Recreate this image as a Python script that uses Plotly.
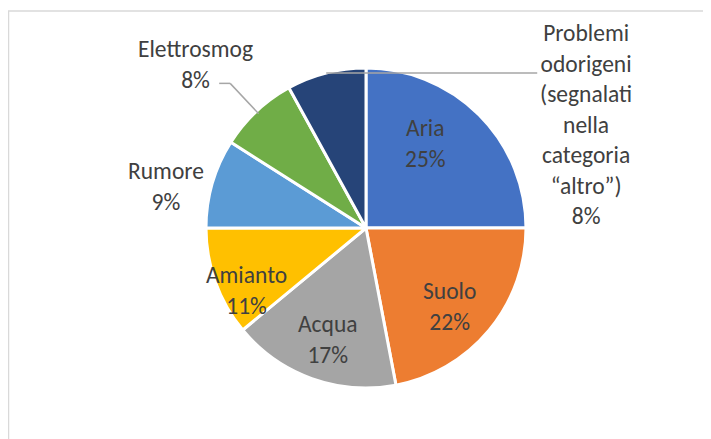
import numpy as np
import plotly.graph_objects as go

labels = ["Aria", "Suolo", "Acqua", "Amianto", "Rumore", "Elettrosmog",
          "Problemi<br>odorigeni<br>(segnalati<br>nella<br>categoria<br>“altro”)"]
values = [25, 22, 17, 11, 9, 8, 8]
colors = ["#4472C4", "#ED7D31", "#A5A5A5", "#FFC000", "#5B9BD5", "#70AD47", "#264478"]

W, H = 711, 439
OFF = 8  # page margin around the figure
CX, CY, R = 366 - OFF, 228 - OFF, 160  # pie centre / radius in figure px

# label placement relative to slice middle: (angle shift in deg, radius factor)
label_pos = [(-9.5, 0.645), (3.6, 0.72), (-0.6, 0.74), (-7.7, 0.84),
             (-4.4, 1.28), (-3.0, 1.48), (79.3, 1.52)]
font = dict(family="Calibri, Carlito, Lato, sans-serif", size=23.5, color="#404040")

fig = go.Figure()
fig.add_trace(go.Pie(
    labels=labels, values=values, sort=False, direction="clockwise", rotation=0,
    marker=dict(colors=colors, line=dict(color="white", width=3)),
    textinfo="none", hoverinfo="label+percent", showlegend=False,
    domain=dict(x=[(CX - R) / W, (CX + R) / W], y=[1 - (CY + R) / H, 1 - (CY - R) / H]),
))


def px(x, y):
    return x / W, 1 - y / H


def polar(ang, r):
    a = np.radians(ang)
    return CX + r * np.sin(a), CY - r * np.cos(a)


total = sum(values)
cum = np.cumsum([0] + values[:-1])
mids = [(c + v / 2) / total * 360 for c, v in zip(cum, values)]

annotations = []
for lab, v, m, (da, rf) in zip(labels, values, mids, label_pos):
    x, y = polar(m + da, rf * R)
    pct = round(v / total * 100)
    xx, yy = px(x, y)
    annotations.append(dict(x=xx, y=yy, xref="paper", yref="paper", showarrow=False,
                            text=f"{lab}<br>{pct}%", font=font,
                            xanchor="center", yanchor="middle"))

shapes = []
line = dict(color="#A6A6A6", width=1.5)
# Elettrosmog leader line
ex, ey = polar(mids[5], R * 0.98)
bx, by = polar(mids[5], R * 1.24)
for (x0, y0), (x1, y1) in [((ex, ey), (bx, by)), ((bx, by), (bx - 11, by))]:
    a0, b0 = px(x0, y0)
    a1, b1 = px(x1, y1)
    shapes.append(dict(type="line", xref="paper", yref="paper", x0=a0, y0=b0, x1=a1, y1=b1, line=line))
# Problemi odorigeni leader line
px0, py0 = polar(mids[6], R)
lx, _ = polar(mids[6] + label_pos[6][0], label_pos[6][1] * R)
a0, b0 = px(px0, py0)
a1, b1 = px(lx - 49, py0)
shapes.append(dict(type="line", xref="paper", yref="paper", x0=a0, y0=b0, x1=a1, y1=b1, line=line))

# chart border
shapes.append(dict(type="rect", xref="paper", yref="paper", x0=0.5 / W, y0=-0.1, x1=1.1, y1=1 - 3 / H,
                   line=dict(color="#D9D9D9", width=1.5), layer="below"))

fig.update_layout(width=W, height=H, margin=dict(l=0, r=0, t=0, b=0),
                  paper_bgcolor="white", plot_bgcolor="white",
                  annotations=annotations, shapes=shapes)

fig.write_html("out.html")
